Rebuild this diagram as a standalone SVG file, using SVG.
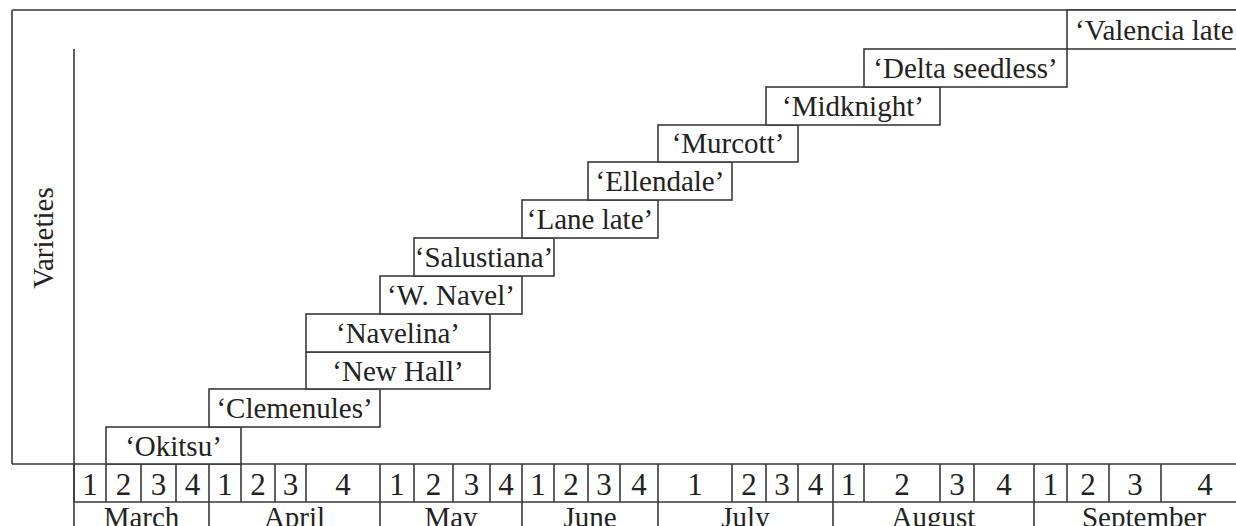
<svg xmlns="http://www.w3.org/2000/svg" width="1236" height="526" viewBox="0 0 1236 526">
<style>
  .ln{stroke:#3a3a3a;stroke-width:1.6;fill:none}
  .bx{stroke:#3a3a3a;stroke-width:1.6;fill:#fff}
  text{font-family:"Liberation Serif","Times New Roman",serif;fill:#222}
  .lb{font-size:29px;text-anchor:middle}
  .wk{font-size:31px;text-anchor:middle}
  .mo{font-size:29px;text-anchor:middle}
</style>
<rect width="1236" height="526" fill="#fff"/>
<g id="frame">
  <path class="ln" d="M12 10H1250M12 10V464M12 464H1250M74 49V526M74 502H1250"/>
  <text transform="translate(53,238) rotate(-90)" class="lb">Varieties</text>
</g>
<g id="connectors"></g>
<g id="okitsu"><rect class="bx" x="106" y="427" width="135" height="37"/><text class="lb" x="173.5" y="456">‘Okitsu’</text></g>
<g id="clemenules"><rect class="bx" x="209" y="389" width="171" height="38"/><text class="lb" x="294.5" y="418">‘Clemenules’</text></g>
<g id="newhall"><rect class="bx" x="306" y="352" width="184" height="37"/><text class="lb" x="398" y="381">‘New Hall’</text></g>
<g id="navelina"><rect class="bx" x="306" y="314" width="184" height="38"/><text class="lb" x="398" y="343">‘Navelina’</text></g>
<g id="wnavel"><rect class="bx" x="380" y="276" width="142" height="38"/><text class="lb" x="451" y="305">‘W. Navel’</text></g>
<g id="salustiana"><rect class="bx" x="414" y="238" width="140" height="38"/><text class="lb" x="484" y="267">‘Salustiana’</text></g>
<g id="lanelate"><rect class="bx" x="522" y="200" width="136" height="38"/><text class="lb" x="590" y="229">‘Lane late’</text></g>
<g id="ellendale"><rect class="bx" x="588" y="162" width="144" height="38"/><text class="lb" x="660" y="191">‘Ellendale’</text></g>
<g id="murcott"><rect class="bx" x="658" y="125" width="140" height="37"/><text class="lb" x="728" y="153">‘Murcott’</text></g>
<g id="midknight"><rect class="bx" x="766" y="87" width="174" height="38"/><text class="lb" x="853" y="116">‘Midknight’</text></g>
<g id="deltaseedless"><rect class="bx" x="864" y="49" width="203" height="38"/><text class="lb" x="965.5" y="78">‘Delta seedless’</text></g>
<g id="valencialate"><rect class="bx" x="1067" y="10" width="190" height="39"/><text x="1075" y="40" style="font-size:29px">‘Valencia late</text></g>
<g id="weeks">
  <path class="ln" d="M74 464V502M106 464V502M141 464V502M176 464V502M209 464V502M241 464V502M275 464V502M306 464V502M380 464V502M414 464V502M453 464V502M490 464V502M522 464V502M554 464V502M588 464V502M620 464V502M658 464V502M732 464V502M766 464V502M798 464V502M833 464V502M864 464V502M940 464V502M974 464V502M1034 464V502M1067 464V502M1109 464V502M1161 464V502"/>
  <text class="wk" x="90" y="495">1</text>
  <text class="wk" x="123.5" y="495">2</text>
  <text class="wk" x="158.5" y="495">3</text>
  <text class="wk" x="192.5" y="495">4</text>
  <text class="wk" x="225" y="495">1</text>
  <text class="wk" x="258" y="495">2</text>
  <text class="wk" x="290.5" y="495">3</text>
  <text class="wk" x="343" y="495">4</text>
  <text class="wk" x="397" y="495">1</text>
  <text class="wk" x="433.5" y="495">2</text>
  <text class="wk" x="471.5" y="495">3</text>
  <text class="wk" x="506" y="495">4</text>
  <text class="wk" x="538" y="495">1</text>
  <text class="wk" x="571" y="495">2</text>
  <text class="wk" x="604" y="495">3</text>
  <text class="wk" x="639" y="495">4</text>
  <text class="wk" x="695" y="495">1</text>
  <text class="wk" x="749" y="495">2</text>
  <text class="wk" x="782" y="495">3</text>
  <text class="wk" x="815.5" y="495">4</text>
  <text class="wk" x="848.5" y="495">1</text>
  <text class="wk" x="902" y="495">2</text>
  <text class="wk" x="957" y="495">3</text>
  <text class="wk" x="1004" y="495">4</text>
  <text class="wk" x="1050.5" y="495">1</text>
  <text class="wk" x="1088" y="495">2</text>
  <text class="wk" x="1135" y="495">3</text>
  <text class="wk" x="1205" y="495">4</text>
</g>
<g id="months">
  <path class="ln" d="M209 502V526M380 502V526M522 502V526M658 502V526M833 502V526M1034 502V526"/>
  <text class="mo" x="141.5" y="527">March</text>
  <text class="mo" x="294.5" y="527">April</text>
  <text class="mo" x="451" y="527">May</text>
  <text class="mo" x="590" y="527">June</text>
  <text class="mo" x="745.5" y="527">July</text>
  <text class="mo" x="933.5" y="527">August</text>
  <text class="mo" x="1144" y="527">September</text>
</g>
</svg>
